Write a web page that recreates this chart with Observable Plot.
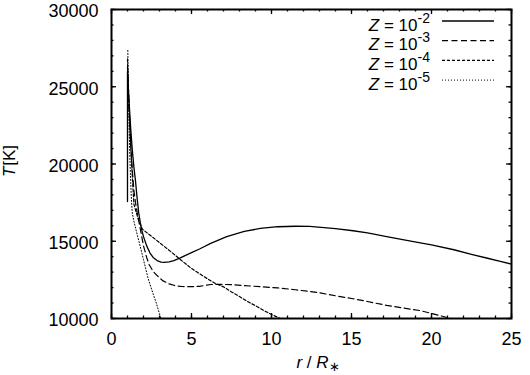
<!DOCTYPE html>
<html><head><meta charset="utf-8">
<script src="https://cdn.jsdelivr.net/npm/d3@7"></script>
<script src="https://cdn.jsdelivr.net/npm/@observablehq/plot@0.6"></script>
<style>body{margin:0;background:#fff} svg{display:block}</style>
</head><body><div id="chart"></div>
<script>
// Z = 1e-2 (solid)
const r_m2 = [1.0,1.0,1.05,1.1,1.2,1.3,1.4,1.5,1.6,1.7,1.8,1.9,2.0,2.2,2.4,2.6,2.85,3.1,3.3,3.6,3.9,4.3,4.6,5.0,5.5,6.2,7.2,8.3,9.3,10.4,11.5,12.4,13.1,14.0,15.1,16.0,17.2,18.2,19.3,20.0,21.4,22.5,23.5,24.3,25.0];
const T_m2 = [17570,26000,24900,24000,22300,20900,19800,18900,17800,16850,16200,15700,15300,14700,14250,13950,13750,13650,13630,13660,13750,13920,14070,14260,14500,14860,15300,15640,15830,15940,15970,15960,15900,15820,15680,15540,15300,15100,14900,14760,14450,14150,13900,13700,13520];
// Z = 1e-3 (dashed)
const r_m3 = [1.0,1.05,1.1,1.2,1.3,1.4,1.5,1.65,1.8,2.0,2.2,2.35,2.6,2.85,3.2,3.6,4.0,4.4,5.0,5.5,6.2,6.8,7.5,8.3,9.3,10.4,11.5,12.9,14.0,15.1,16.0,17.2,18.2,19.3,20.0,21.0,21.25];
const T_m3 = [26300,24800,23500,21300,19600,18300,17500,16600,15800,14700,13950,13500,13050,12780,12450,12240,12120,12070,12060,12080,12200,12210,12190,12130,12060,11980,11860,11680,11470,11280,11100,10850,10680,10510,10330,10060,10000];
// Z = 1e-4 (short dashed)
const r_m4 = [1.0,1.05,1.1,1.2,1.3,1.4,1.55,1.7,1.92,2.5,3.0,3.5,4.0,4.5,5.0,5.5,6.0,6.5,7.0,7.5,8.0,8.5,9.0,9.5,10.0,10.55];
const T_m4 = [26800,25200,23800,21200,19200,17400,16850,16350,15790,15320,14910,14500,14080,13650,13240,12900,12570,12260,12050,11720,11420,11100,10830,10530,10260,10000];
// Z = 1e-5 (dotted)
const r_m5 = [1.02,1.05,1.1,1.15,1.2,1.25,1.3,1.4,1.6,1.8,2.0,2.3,2.6,2.8,3.0,3.08];
const T_m5 = [27350,25200,22500,20400,18800,17600,16800,16300,15450,14650,13800,12550,11600,11000,10300,10000];

const exponents = ["-2","-3","-4","-5"];
const dashes = [null, "6,3.5", "3,2", "1,2"];
const widths = [1.3, 1.2, 1.2, 1.0];
const seriesR = [r_m2, r_m3, r_m4, r_m5];
const seriesT = [T_m2, T_m3, T_m4, T_m5];

const xMajor = [0,5,10,15,20,25];
const xMinor = d3.range(0, 26, 1);
const yMajor = [10000,15000,20000,25000,30000];
const yMinor = d3.range(10000, 30001, 1000);

const W = 530, H = 375, mL = 111, mR = 19, mT = 9, mB = 57;
const fw = W - mL - mR, fh = H - mT - mB;
const FONT = "Liberation Sans, Arial, Helvetica, sans-serif";

const lineMarks = seriesR.map((rs, i) => Plot.line(d3.zip(rs, seriesT[i]), {
  x: d => d[0], y: d => d[1], stroke: "#000", strokeWidth: widths[i],
  strokeDasharray: dashes[i] ?? undefined
}));

const tickStyle = {stroke: "#000", strokeWidth: 1.3};
const plot = Plot.plot({
  width: W, height: H,
  marginLeft: mL, marginRight: mR, marginTop: mT, marginBottom: mB,
  style: {fontFamily: FONT, background: "#fff", color: "#000"},
  x: {domain: [0, 25]},
  y: {domain: [10000, 30000]},
  marks: [
    Plot.ruleX(xMinor, {x: d => d, insetTop: fh - 2.5, ...tickStyle}),
    Plot.ruleX(xMinor, {x: d => d, insetBottom: fh - 2.5, ...tickStyle}),
    Plot.ruleX(xMajor, {x: d => d, insetTop: fh - 5, ...tickStyle}),
    Plot.ruleX(xMajor, {x: d => d, insetBottom: fh - 5, ...tickStyle}),
    Plot.ruleY(yMinor, {y: d => d, insetRight: fw - 2.5, ...tickStyle}),
    Plot.ruleY(yMinor, {y: d => d, insetLeft: fw - 2.5, ...tickStyle}),
    Plot.ruleY(yMajor, {y: d => d, insetRight: fw - 5, ...tickStyle}),
    Plot.ruleY(yMajor, {y: d => d, insetLeft: fw - 5, ...tickStyle}),
    ...lineMarks,
    Plot.frame({stroke: "#000", strokeWidth: 2}),
    Plot.axisX({ticks: xMajor, tickSize: 0, tickPadding: 14, fontSize: 18, label: null, tickFormat: d => String(d)}),
    Plot.axisY({ticks: yMajor, tickSize: 0, tickPadding: 13, fontSize: 18, dy: 2, label: null, tickFormat: d => String(d)})
  ]
});
document.getElementById("chart").appendChild(plot);

const svg = d3.select(plot);
// legend
exponents.forEach((e, i) => {
  const yl = 21 + i * 19.7;
  const t = svg.append("text").attr("x", 430).attr("y", yl + 9.5)
    .attr("text-anchor", "end").attr("font-size", 17).attr("font-family", FONT).attr("fill", "#000");
  t.append("tspan").attr("font-style", "italic").text("Z");
  t.append("tspan").text(" = 10");
  t.append("tspan").attr("dy", -8).attr("font-size", 14).text(e);
  svg.append("line").attr("x1", 442).attr("x2", 494).attr("y1", yl).attr("y2", yl)
    .attr("stroke", "#000").attr("stroke-width", widths[i])
    .attr("stroke-dasharray", dashes[i]);
});
// y label
const yl = svg.append("text").attr("transform", "translate(15,161) rotate(-90)")
  .attr("text-anchor", "middle").attr("font-size", 17).attr("font-family", FONT).attr("fill", "#000");
yl.append("tspan").attr("font-style", "italic").text("T");
yl.append("tspan").attr("dx", 1).text("[K]");
// x label
const xl = svg.append("text").attr("x", 318).attr("y", 368)
  .attr("text-anchor", "middle").attr("font-size", 17).attr("font-family", FONT).attr("fill", "#000");
xl.append("tspan").attr("font-style", "italic").text("r");
xl.append("tspan").text(" / ");
xl.append("tspan").attr("font-style", "italic").text("R");
xl.append("tspan").attr("dy", 3).attr("font-size", 13).text("∗");
</script>
</body></html>
